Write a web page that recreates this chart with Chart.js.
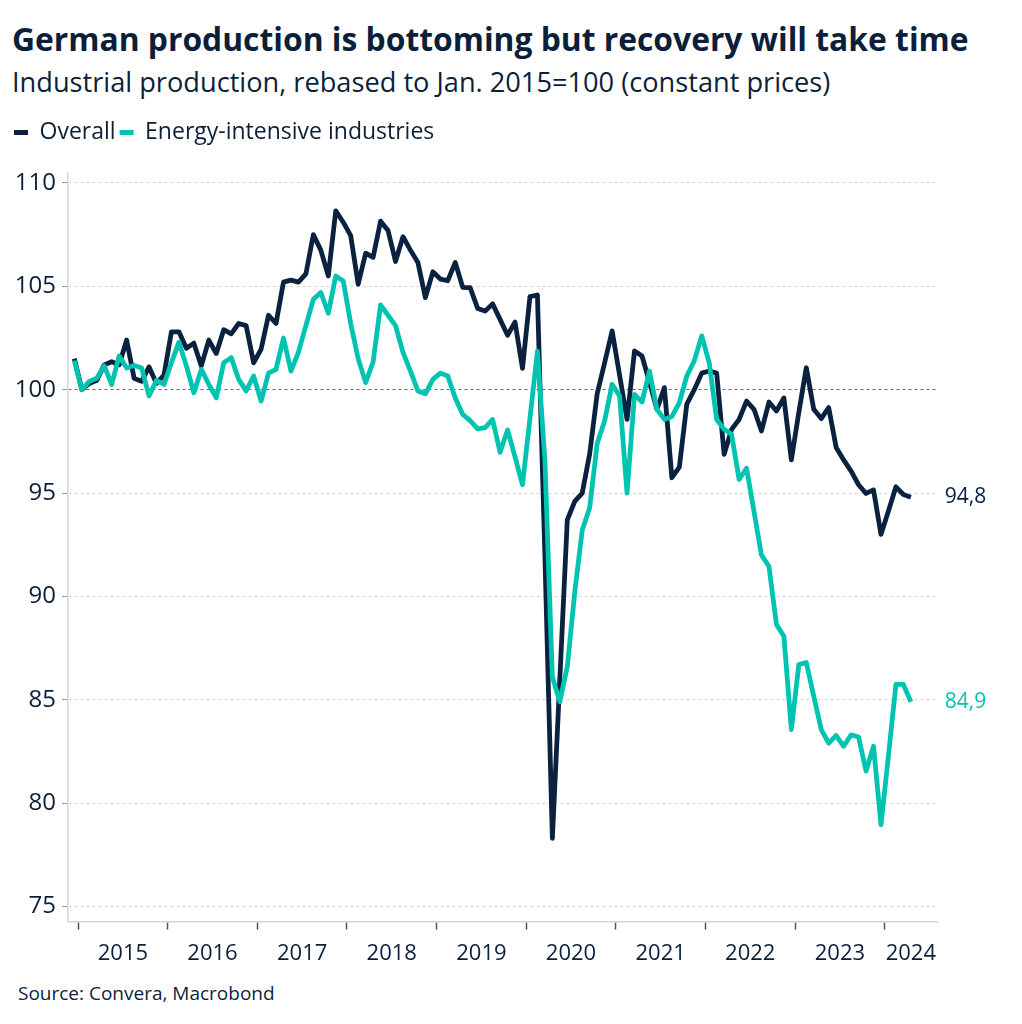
<!DOCTYPE html>
<html>
<head>
<meta charset="utf-8">
<script src="https://cdn.jsdelivr.net/npm/chart.js@4.4.1/dist/chart.umd.min.js"></script>
<style>
  html, body { margin: 0; padding: 0; background: #fff; }
  body { width: 1022px; height: 1024px; position: relative; overflow: hidden; font-family: 'Open Sans', sans-serif; color: #0b1f3a; }
  #title { position: absolute; left: 12px; top: 17px; font-size: 31.8px; font-weight: 700; white-space: nowrap; }
  #subtitle { position: absolute; left: 12px; top: 63px; font-size: 27.2px; white-space: nowrap; }
  #source { position: absolute; left: 18px; top: 980px; font-size: 19px; white-space: nowrap; }
  #wrap { position: absolute; left: 0; top: 0; width: 1022px; height: 978px; }
</style>
</head>
<body>
<div id="title">German production is bottoming but recovery will take time</div>
<div id="subtitle">Industrial production, rebased to Jan. 2015=100 (constant prices)</div>
<div id="wrap"><canvas id="chart"></canvas></div>
<div id="source">Source: Convera, Macrobond</div>
<script>
// months counted from Jan 2015 = 0; series start in Dec 2014
const firstMonth = -1;
const years = ['2015', '2016', '2017', '2018', '2019', '2020', '2021', '2022', '2023', '2024'];
const yTicks = [75, 80, 85, 90, 95, 100, 105, 110];

const overall = [
  101.5,
  100.0, 100.3, 100.45, 101.2, 101.35, 101.2, 102.4, 100.55, 100.4, 101.1, 100.3, 100.7,
  102.8, 102.8, 102.0, 102.25, 101.15, 102.4, 101.75, 102.9, 102.7, 103.2, 103.1, 101.3,
  101.95, 103.6, 103.2, 105.2, 105.3, 105.2, 105.6, 107.5, 106.75, 105.5, 108.65, 108.1,
  107.45, 105.1, 106.6, 106.4, 108.15, 107.7, 106.2, 107.4, 106.75, 106.15, 104.45, 105.7,
  105.35, 105.27, 106.15, 104.95, 104.93, 103.93, 103.8, 104.15, 103.4, 102.63, 103.27, 101.03,
  104.5, 104.58, 92.0, 78.3, 86.0, 93.7, 94.6, 95.0, 96.9, 99.8, 101.3, 102.84,
  100.7, 98.56, 101.87, 101.63, 100.37, 99.05, 100.1, 95.74, 96.25, 99.3, 100.0, 100.8,
  100.9, 100.8, 96.87, 98.08, 98.56, 99.45, 99.05, 98.0, 99.4, 98.97, 99.6, 96.6,
  98.9, 101.06, 99.05, 98.6, 99.13, 97.2, 96.6, 96.06, 95.4, 94.98, 95.15, 93.0,
  94.13, 95.3, 94.93, 94.8
];

const energyIntensive = [
  101.4,
  100.0, 100.4, 100.55, 101.15, 100.25, 101.63, 101.05, 101.17, 101.05, 99.7, 100.45, 100.25,
  101.3, 102.3, 101.15, 99.85, 100.98, 100.26, 99.6, 101.3, 101.55, 100.5, 99.94, 100.66,
  99.45, 100.8, 100.98, 102.5, 100.9, 101.8, 103.1, 104.37, 104.7, 103.7, 105.5, 105.26,
  103.2, 101.5, 100.34, 101.34, 104.1, 103.6, 103.1, 101.8, 100.9, 99.94, 99.8, 100.5,
  100.8, 100.66, 99.6, 98.8, 98.5, 98.1, 98.16, 98.56, 96.97, 98.05, 96.75, 95.4,
  98.6, 101.86, 96.6, 86.1, 84.9, 86.6, 90.2, 93.2, 94.3, 97.4, 98.5, 100.26,
  99.7, 95.0, 99.77, 99.4, 100.9, 99.05, 98.56, 98.7, 99.37, 100.66, 101.39, 102.6,
  101.3, 98.56, 98.08, 97.84, 95.66, 96.2, 94.1, 92.0, 91.45, 88.64, 88.07, 83.56,
  86.7, 86.8, 85.17, 83.56, 82.9, 83.27, 82.75, 83.3, 83.2, 81.55, 82.75, 78.96,
  82.3, 85.74, 85.74, 84.9
];

const navy = '#0a2240';
const teal = '#00c4b1';
const textColor = '#0b1f3a';
const fontFamily = "'Open Sans', sans-serif";

const toPoints = arr => arr.map((v, i) => ({ x: firstMonth + i, y: v }));

// value labels at the end of each line
const endLabels = {
    id: 'endLabels',
    afterDatasetsDraw(chart) {
        const ctx = chart.ctx;
        chart.data.datasets.forEach((ds, i) => {
            const meta = chart.getDatasetMeta(i);
            const pt = meta.data[meta.data.length - 1];
            const v = ds.data[ds.data.length - 1].y;
            ctx.save();
            ctx.font = '21px ' + fontFamily;
            ctx.fillStyle = i === 0 ? textColor : teal;
            ctx.textBaseline = 'middle';
            ctx.fillText(v.toFixed(1).replace('.', ','), pt.x + 34, pt.y);
            ctx.restore();
        });
    }
};

// extra room between legend and plot
const legendGap = {
    id: 'legendGap',
    beforeInit(chart) {
        const fit = chart.legend.fit;
        chart.legend.fit = function () {
            fit.call(this);
            this.height += 19;
        };
    }
};

const ctx = document.getElementById('chart').getContext('2d');
new Chart(ctx, {
    type: 'line',
    data: {
        datasets: [
            {
                label: 'Overall',
                data: toPoints(overall),
                borderColor: navy,
                backgroundColor: navy,
                borderWidth: 4.8,
                borderJoinStyle: 'round',
                pointRadius: 0,
                tension: 0,
                order: 1
            },
            {
                label: 'Energy-intensive industries',
                data: toPoints(energyIntensive),
                borderColor: teal,
                backgroundColor: teal,
                borderWidth: 4.8,
                borderJoinStyle: 'round',
                pointRadius: 0,
                tension: 0,
                order: 0
            }
        ]
    },
    options: {
        responsive: true,
        maintainAspectRatio: false,
        animation: false,
        devicePixelRatio: 1,
        layout: { padding: { left: 10, right: 85, top: 117, bottom: 0 } },
        plugins: {
            tooltip: { enabled: false },
            legend: {
                align: 'start',
                labels: {
                    boxWidth: 14,
                    boxHeight: 5,
                    padding: 4,
                    color: textColor,
                    font: { size: 23, family: fontFamily },
                    sort: (a, b) => a.datasetIndex - b.datasetIndex,
                    generateLabels: chart => Chart.defaults.plugins.legend.labels.generateLabels(chart)
                        .map(l => ({ ...l, lineWidth: 0 }))
                }
            }
        },
        scales: {
            x: {
                type: 'linear',
                min: -1.85,
                max: 114.5,
                afterBuildTicks(axis) {
                    const t = [];
                    years.forEach((y, k) => {
                        t.push({ value: 12 * k - 0.5 });
                        const mid = k < years.length - 1 ? 12 * k + 5.5 : (12 * k - 0.5 + axis.max) / 2;
                        t.push({ value: mid, yr: y });
                    });
                    axis.ticks = t.sort((a, b) => a.value - b.value);
                },
                ticks: {
                    autoSkip: false,
                    maxRotation: 0,
                    padding: 11,
                    color: textColor,
                    font: { size: 22, family: fontFamily },
                    callback: (v, i, ticks) => ticks[i].yr || ''
                },
                grid: {
                    drawOnChartArea: false,
                    tickLength: 8,
                    tickWidth: 1.5,
                    color: c => (c.tick && c.tick.yr) ? 'rgba(0,0,0,0)' : '#555'
                },
                border: { color: '#d5d5d5', width: 1.5 }
            },
            y: {
                min: 74.27,
                max: 110.48,
                afterBuildTicks(axis) {
                    axis.ticks = yTicks.map(v => ({ value: v }));
                },
                afterFit(axis) { axis.width = 58; },
                ticks: {
                    padding: 6,
                    color: textColor,
                    font: { size: 24, family: fontFamily }
                },
                grid: {
                    color: c => (c.tick && c.tick.value === 100) ? '#5d6b82' : '#d4d4d4',
                    lineWidth: 1,
                    tickLength: 6,
                    tickColor: '#999'
                },
                border: { color: '#d5d5d5', width: 1.5, dash: [3, 3] }
            }
        }
    },
    plugins: [endLabels, legendGap]
});
</script>
</body>
</html>
